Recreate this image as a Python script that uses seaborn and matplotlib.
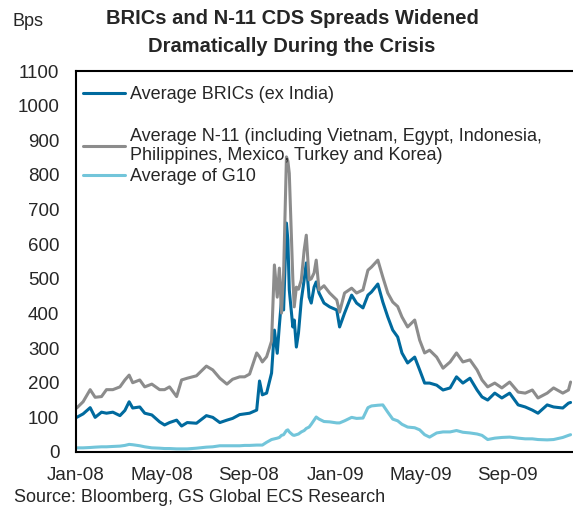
import pandas as pd
import seaborn as sns
import matplotlib
matplotlib.use("Agg")
import matplotlib.pyplot as plt
import matplotlib.dates as mdates

# =============================================================================
# 1. DATA (bps)
# =============================================================================
dates = [
    "2008-01-02", "2008-01-11", "2008-01-21", "2008-01-28", "2008-02-06", "2008-02-13",
    "2008-02-22", "2008-03-03", "2008-03-10", "2008-03-16", "2008-03-21", "2008-03-31",
    "2008-04-07", "2008-04-17", "2008-04-28", "2008-05-05", "2008-05-12", "2008-05-22",
    "2008-05-29", "2008-06-06", "2008-06-19", "2008-07-03", "2008-07-12", "2008-07-22",
    "2008-08-01", "2008-08-09", "2008-08-19", "2008-08-26", "2008-09-02", "2008-09-12",
    "2008-09-16", "2008-09-20", "2008-09-26", "2008-10-03", "2008-10-07", "2008-10-11",
    "2008-10-14", "2008-10-17", "2008-10-20", "2008-10-24", "2008-10-26", "2008-10-28",
    "2008-11-02", "2008-11-04", "2008-11-07", "2008-11-10", "2008-11-14", "2008-11-18",
    "2008-11-21", "2008-11-25", "2008-11-28", "2008-12-02", "2008-12-05", "2008-12-09",
    "2008-12-16", "2008-12-24", "2009-01-03", "2009-01-07", "2009-01-14", "2009-01-24",
    "2009-01-31", "2009-02-09", "2009-02-16", "2009-02-21", "2009-03-02", "2009-03-09",
    "2009-03-16", "2009-03-23", "2009-03-30", "2009-04-05", "2009-04-13", "2009-04-23",
    "2009-04-30", "2009-05-07", "2009-05-14", "2009-05-24", "2009-06-02", "2009-06-12",
    "2009-06-21", "2009-06-30", "2009-07-10", "2009-07-20", "2009-07-27", "2009-08-04",
    "2009-08-14", "2009-08-24", "2009-09-04", "2009-09-16", "2009-09-26", "2009-10-06",
    "2009-10-14", "2009-10-27", "2009-11-05", "2009-11-18", "2009-11-26", "2009-11-29",
]

brics = [
    100, 110, 128, 100, 115, 112, 115, 105, 120, 145, 127, 130,
    112, 107, 87, 78, 85, 92, 75, 85, 83, 105, 100, 85,
    92, 97, 108, 110, 112, 121, 205, 165, 170, 228, 352, 285,
    365, 439, 410, 661, 612, 468, 361, 381, 303, 344, 439, 497,
    546, 447, 430, 476, 491, 459, 430, 419, 410, 361, 401, 453,
    430, 416, 453, 462, 485, 433, 390, 352, 332, 286, 257, 274,
    237, 199, 199, 193, 179, 185, 217, 199, 213, 179, 159, 150,
    170, 156, 170, 136, 130, 121, 112, 136, 130, 127, 141, 143,
]

n11 = [
    127, 145, 180, 158, 160, 180, 180, 188, 208, 222, 200, 208,
    188, 196, 180, 180, 188, 160, 208, 213, 220, 248, 237, 213,
    196, 210, 217, 217, 225, 286, 275, 260, 275, 320, 540, 447,
    531, 401, 517, 852, 840, 805, 500, 419, 476, 470, 497, 583,
    626, 497, 500, 517, 554, 468, 480, 459, 439, 404, 459, 473,
    459, 468, 525, 534, 554, 505, 459, 433, 420, 390, 361, 381,
    323, 286, 294, 274, 242, 260, 286, 260, 266, 237, 208, 188,
    199, 185, 202, 173, 170, 179, 156, 170, 185, 170, 179, 202,
]

g10 = [
    12, 12, 13, 14, 15, 15, 16, 17, 19, 22, 21, 18,
    15, 12, 11, 10, 10, 9, 9, 9, 11, 14, 15, 18,
    18, 18, 18, 19, 19, 20, 20, 20, 28, 36, 38, 40,
    42, 48, 50, 62, 64, 58, 49, 48, 50, 52, 58, 62,
    68, 72, 80, 92, 101, 95, 88, 87, 84, 84, 90, 100,
    97, 98, 128, 133, 135, 136, 115, 95, 90, 80, 72, 70,
    64, 50, 43, 55, 58, 58, 62, 57, 55, 52, 48, 36,
    40, 42, 43, 40, 38, 38, 36, 35, 36, 42, 48, 50,
]

labels = [
    "Average BRICs (ex India)",
    "Average N-11 (including Vietnam, Egypt, Indonesia,\nPhilippines, Mexico, Turkey and Korea)",
    "Average of G10",
]
colors = ["#006A9E", "#8C8C8C", "#72C5DA"]

df = pd.DataFrame({"date": pd.to_datetime(dates), labels[0]: brics,
                   labels[1]: n11, labels[2]: g10})
long_df = df.melt(id_vars="date", var_name="series", value_name="bps")

# =============================================================================
# 2. PLOT
# =============================================================================
sns.set_style("white")
plt.rcParams["font.family"] = ["Liberation Sans", "DejaVu Sans"]

fig = plt.figure(figsize=(5.73, 5.15), dpi=100)
ax = fig.add_axes([76 / 573, 1 - 452 / 515, 496 / 573, 381 / 515])

sns.lineplot(data=long_df, x="date", y="bps", hue="series", hue_order=labels,
             palette=colors, linewidth=2.2, legend=False, ax=ax)

ax.set_ylim(0, 1100)
ax.set_yticks(range(0, 1101, 100))
ax.set_xlim(pd.Timestamp("2008-01-01"), pd.Timestamp("2009-12-01"))
ax.xaxis.set_major_locator(mdates.MonthLocator(bymonth=[1, 5, 9]))
ax.xaxis.set_major_formatter(mdates.DateFormatter("%b-%y"))
ax.set_xlabel("")
ax.set_ylabel("")

for side in ["left", "bottom", "top"]:
    ax.spines[side].set_color("black")
    ax.spines[side].set_linewidth(1.5)
ax.spines["right"].set_visible(False)
ax.tick_params(axis="both", direction="out", length=6, width=1.2,
               color="black", labelsize=13.5, pad=5)
ax.tick_params(axis="y", pad=6)

# legend split in two so the rows sit like the original
lines = ax.get_lines()
leg_kw = dict(loc="upper left", frameon=False, fontsize=13, handlelength=2.3,
              handletextpad=0.3, borderaxespad=0.2, borderpad=0.2)
leg1 = ax.legend(lines[:1], labels[:1], bbox_to_anchor=(0.0, 0.98), **leg_kw)
ax.add_artist(leg1)
ax.legend(lines[1:], labels[1:], bbox_to_anchor=(0.0, 0.87),
          labelspacing=0.2, **leg_kw)

fig.text(292 / 573, 1 - 18 / 515, "BRICs and N-11 CDS Spreads Widened",
         ha="center", va="center", fontsize=14.5, fontweight="bold")
fig.text(292 / 573, 1 - 47 / 515, "Dramatically During the Crisis",
         ha="center", va="center", fontsize=14.5, fontweight="bold")
fig.text(12 / 573, 1 - 22 / 515, "Bps", ha="left", va="center", fontsize=13)
fig.text(14 / 573, 1 - 497 / 515, "Source: Bloomberg, GS Global ECS Research",
         ha="left", va="center", fontsize=13)

fig.savefig("out.png", dpi=100)
